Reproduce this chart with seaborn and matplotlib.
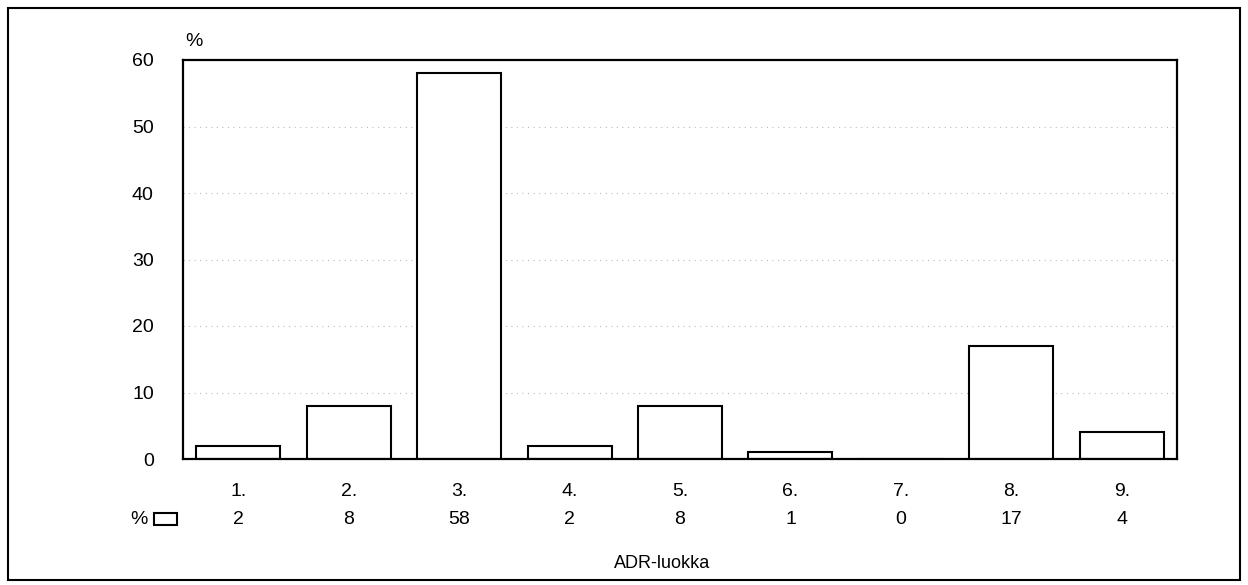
import pandas as pd
import matplotlib.pyplot as plt
import matplotlib.transforms as mtransforms
from matplotlib.patches import Rectangle
import seaborn as sns

# ADR-luokka distribution (%)
classes = ["1.", "2.", "3.", "4.", "5.", "6.", "7.", "8.", "9."]
percent = [2, 8, 58, 2, 8, 1, 0, 17, 4]
yticks = [0, 10, 20, 30, 40, 50, 60]

df = pd.DataFrame({"luokka": classes, "pct": percent})

sns.set_style("white")
plt.rcParams['font.family'] = ['Liberation Sans', 'DejaVu Sans']
plt.rcParams['text.color'] = 'black'
plt.rcParams['xtick.color'] = 'black'
plt.rcParams['ytick.color'] = 'black'

FS = 14
W, H = 1248, 585
fig = plt.figure(figsize=(W / 100, H / 100), dpi=100)
ax = fig.add_axes([183 / W, 1 - 459 / H, (1177 - 183) / W, (459 - 60) / H])

sns.barplot(data=df, x="luokka", y="pct", color="white", edgecolor="black",
            linewidth=1.5, width=0.76, saturation=1, ax=ax)

ax.set_ylim(0, 60)
ax.set_yticks(yticks)
ax.set_yticklabels([str(t) for t in yticks], fontsize=FS)
for t in yticks[1:-1]:
    ax.axhline(t, color="#bbbbbb", linewidth=0.8, linestyle=(0, (1, 4)), zorder=0)

for s in ax.spines.values():
    s.set_color("black")
    s.set_linewidth(1.6)

ax.tick_params(axis="y", length=0, pad=21)
ax.tick_params(axis="x", length=0, pad=17, labelsize=FS)
ax.set_xlabel("")
ax.set_ylabel("")

# "%" unit label above y axis
fig.text(185 / W, 1 - 42 / H, "%", fontsize=FS, ha="left", va="center")

# data table row with values
trans = mtransforms.blended_transform_factory(ax.transData, fig.transFigure)
for i, v in enumerate(percent):
    ax.text(i, 1 - 520 / H, str(v), transform=trans, ha="center", va="center",
            fontsize=FS, clip_on=False)
fig.text(130 / W, 1 - 520 / H, "%", fontsize=FS, ha="left", va="center")
fig.patches.append(Rectangle((154 / W, 1 - 525 / H), 23 / W, 12 / H,
                             transform=fig.transFigure, facecolor="white",
                             edgecolor="black", linewidth=1.5))

fig.text(662 / W, 1 - 564 / H, "ADR-luokka", fontsize=13, ha="center", va="center")

# outer frame
fig.patches.append(Rectangle((8 / W, 1 - 580 / H), 1232 / W, 572 / H,
                             transform=fig.transFigure, fill=False,
                             edgecolor="black", linewidth=1.5))

fig.savefig("out.png", dpi=100)
